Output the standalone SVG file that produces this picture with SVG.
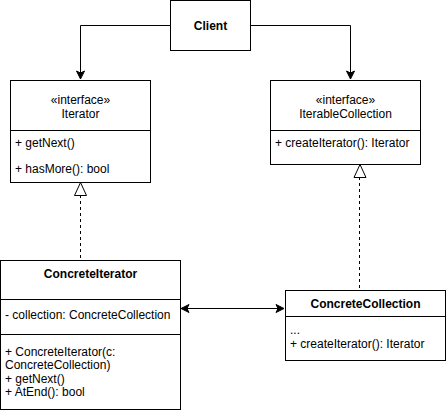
<svg xmlns="http://www.w3.org/2000/svg" width="446" height="414" viewBox="0 0 446 414">
<style>
.box{fill:#fff;stroke:#000;stroke-width:1}
.ln{fill:none;stroke:#000;stroke-width:1}
.dash{fill:none;stroke:#000;stroke-width:1;stroke-dasharray:3 3}
text{font-family:"Liberation Sans",Arial,sans-serif;font-size:12px;fill:#000}
.b{font-weight:bold}
.c{text-anchor:middle}
</style>
<defs>
<marker id="arr" markerUnits="userSpaceOnUse" markerWidth="10" markerHeight="10" refX="9" refY="5" orient="auto-start-reverse">
<path d="M1,1 L9,5 L1,9 L3,5 Z" fill="#000" stroke="#000" stroke-width="1"/>
</marker>
</defs>
<rect width="446" height="414" fill="#fff"/>
<g id="connectors">
<path class="ln" d="M170,25.5 H80.5 V79" marker-end="url(#arr)"/>
<path class="ln" d="M250,25.5 H350.5 V79" marker-end="url(#arr)"/>
<path class="ln" d="M181,308.5 H284" marker-start="url(#arr)" marker-end="url(#arr)"/>
<path class="dash" d="M80.5,195 V260"/>
<path class="box" d="M80.5,182.5 L86.5,195.5 L74.5,195.5 Z"/>
<path class="dash" d="M359.5,177 V290"/>
<path class="box" d="M360,164.5 L366,177.5 L354,177.5 Z"/>
</g>
<g id="client">
<rect class="box" x="170.5" y="0.5" width="80" height="50"/>
<text class="b c" x="210.5" y="29.5">Client</text>
</g>
<g id="iterator">
<rect class="box" x="10.5" y="80.5" width="140" height="102"/>
<line class="ln" x1="10.5" y1="130.5" x2="150.5" y2="130.5"/>
<text class="c" x="80.5" y="103.5">«interface»</text>
<text class="c" x="80.5" y="118">Iterator</text>
<text x="15" y="146.5">+ getNext()</text>
<text x="15" y="172.5">+ hasMore(): bool</text>
</g>
<g id="iterableCollection">
<rect class="box" x="270.5" y="80.5" width="150" height="84"/>
<line class="ln" x1="270.5" y1="130.5" x2="420.5" y2="130.5"/>
<text class="c" x="345.5" y="103.5">«interface»</text>
<text class="c" x="345.5" y="118">IterableCollection</text>
<text x="275" y="146.5">+ createIterator(): Iterator</text>
</g>
<g id="concreteIterator">
<rect class="box" x="0.5" y="260.5" width="180" height="149"/>
<line class="ln" x1="0.5" y1="299.5" x2="180.5" y2="299.5"/>
<line class="ln" x1="0.5" y1="334.5" x2="180.5" y2="334.5"/>
<text class="b c" x="90.5" y="278">ConcreteIterator</text>
<text x="5" y="318.5">- collection: ConcreteCollection</text>
<text x="5" y="355.5">+ ConcreteIterator(c:</text>
<text x="5" y="369">ConcreteCollection)</text>
<text x="5" y="382.5">+ getNext()</text>
<text x="5" y="396">+ AtEnd(): bool</text>
</g>
<g id="concreteCollection">
<rect class="box" x="285.5" y="290.5" width="160" height="70"/>
<line class="ln" x1="285.5" y1="316.5" x2="445.5" y2="316.5"/>
<text class="b c" x="365.5" y="308">ConcreteCollection</text>
<text x="290" y="333.5">...</text>
<text x="290" y="347.5">+ createIterator(): Iterator</text>
</g>
</svg>
